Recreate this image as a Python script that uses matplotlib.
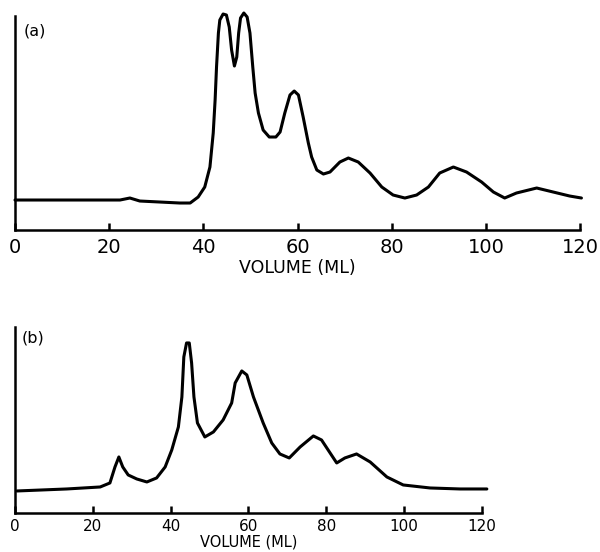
import matplotlib.pyplot as plt

# chromatogram (a): elution volume (ml) vs detector response (arbitrary units)
vol_a = [0, 22.3, 24.4, 26.5, 35.0, 37.2, 38.9, 40.3, 41.4, 42.1, 42.5, 42.8,
         43.2, 43.5, 44.2, 44.9, 45.5, 46.0, 46.6, 47.1, 47.5, 47.9, 48.6,
         49.3, 49.9, 50.5, 51.0, 51.7, 52.7, 54.0, 55.4, 56.3, 57.3, 58.4,
         59.3, 60.2, 61.2, 62.3, 63.0, 64.1, 65.5, 66.9, 69.0, 70.8, 72.9,
         75.4, 77.9, 80.3, 82.8, 85.3, 87.8, 90.2, 93.1, 95.9, 99.1, 101.6,
         104.0, 106.5, 110.8, 114.3, 117.8, 120.3]
resp_a = [30, 30, 32, 29, 27, 27, 33, 43, 63, 97, 130, 163,
          197, 210, 216, 215, 203, 180, 164, 173, 197, 212, 217,
          213, 197, 163, 137, 117, 100, 93, 93, 98, 117, 135,
          139, 135, 113, 87, 73, 60, 56, 58, 68, 72, 68,
          57, 43, 35, 32, 35, 43, 57, 63, 58, 48, 38,
          32, 37, 42, 38, 34, 32]

# chromatogram (b)
vol_b = [0.5, 13.3, 21.9, 24.4, 25.7, 26.7, 27.7, 29.1, 31.3, 33.9, 36.4,
         38.6, 40.3, 42.0, 42.9, 43.4, 44.1, 44.8, 45.4, 46.0, 46.9, 48.8,
         51.0, 53.5, 55.7, 56.6, 58.3, 59.6, 61.3, 63.8, 66.0, 68.1, 70.5,
         73.3, 76.7, 78.8, 82.7, 84.8, 87.8, 91.3, 95.6, 99.8, 106.7, 114.4,
         121.3]
resp_b = [22, 24, 26, 30, 46, 56, 46, 38, 34, 31, 35,
          46, 63, 86, 116, 156, 170, 170, 150, 116, 90, 76,
          81, 93, 110, 130, 142, 138, 116, 90, 70, 59, 55,
          66, 77, 73, 50, 55, 59, 51, 36, 28, 25, 24,
          24]

x_ticks = [0, 20, 40, 60, 80, 100, 120]

fig = plt.figure(figsize=(6, 5.52), dpi=100)
ax_a = fig.add_axes([0.025, 0.5833, 0.9417, 0.3877])
ax_b = fig.add_axes([0.025, 0.0707, 0.778, 0.337])

panels = [(ax_a, vol_a, resp_a, 214, '(a)', 0.93, 14, 12.5, 6, 1),
          (ax_b, vol_b, resp_b, 186, '(b)', 0.94, 11, 10.5, 4, 1)]

for ax, v, r, top, tag, tag_y, tick_fs, lab_fs, tick_pad, lab_pad in panels:
    ax.plot(v, r, color='black', lw=2.2, clip_on=False,
            solid_joinstyle='round', solid_capstyle='round')
    ax.set_xlim(0, 120)
    ax.set_ylim(0, top)
    ax.set_xticks(x_ticks)
    ax.set_yticks([])
    for side in ['top', 'right']:
        ax.spines[side].set_visible(False)
    for side in ['left', 'bottom']:
        ax.spines[side].set_linewidth(1.8)
    ax.tick_params(axis='x', direction='in', length=5, width=1.8,
                   labelsize=tick_fs, pad=tick_pad)
    ax.set_xlabel('VOLUME (ML)', fontsize=lab_fs, labelpad=lab_pad)
    ax.text(0.015, tag_y, tag, transform=ax.transAxes, fontsize=11.5,
            ha='left', va='center')

fig.savefig('out.png', dpi=100)
